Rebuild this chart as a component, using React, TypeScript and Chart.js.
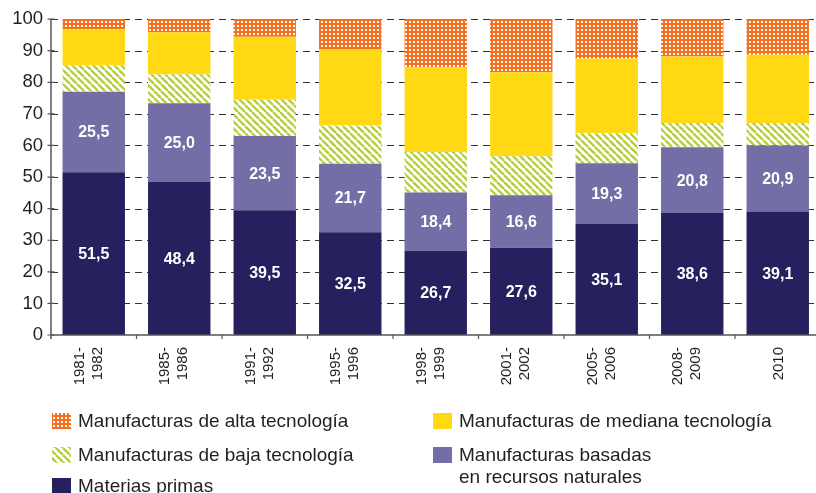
import React, { useEffect, useRef } from "react";
import { Chart, registerables } from "chart.js";

Chart.register(...registerables);

const periodLines: string[][] = [
  ["1981-", "1982"],
  ["1985-", "1986"],
  ["1991-", "1992"],
  ["1995-", "1996"],
  ["1998-", "1999"],
  ["2001-", "2002"],
  ["2005-", "2006"],
  ["2008-", "2009"],
  ["2010"],
];
const categories = periodLines.map((l) => l.join(""));

const materiasPrimas = [51.5, 48.4, 39.5, 32.5, 26.7, 27.6, 35.1, 38.6, 39.1];
const recursosNaturales = [25.5, 25.0, 23.5, 21.7, 18.4, 16.6, 19.3, 20.8, 20.9];
const bajaTecnologia = [8.3, 9.1, 11.5, 12.1, 12.8, 12.4, 9.5, 7.7, 7.1];
const medianaTecnologia = [11.4, 13.3, 19.9, 24.2, 26.9, 26.6, 23.6, 21.1, 21.6];
const altaTecnologia = [3.3, 4.2, 5.6, 9.5, 15.2, 16.8, 12.5, 11.8, 11.3];

const yTicks = [0, 10, 20, 30, 40, 50, 60, 70, 80, 90, 100];

const legendAlta = ["Manufacturas de alta tecnología"];
const legendMediana = ["Manufacturas de mediana tecnología"];
const legendBaja = ["Manufacturas de baja tecnología"];
const legendRecursos = ["Manufacturas basadas", "en recursos naturales"];
const legendMaterias = ["Materias primas"];

const FONT = "'Liberation Sans', Arial, sans-serif";
const ORANGE = "#F37021";
const YELLOW = "#FFDA14";
const GREEN = "#B7CE3A";
const PURPLE = "#736FA6";
const NAVY = "#26205F";

function makeDotPattern(): CanvasPattern | string {
  const c = document.createElement("canvas");
  c.width = 4;
  c.height = 4;
  const g = c.getContext("2d");
  if (!g) return ORANGE;
  g.fillStyle = ORANGE;
  g.fillRect(0, 0, 4, 4);
  g.fillStyle = "rgba(255,255,255,0.95)";
  g.fillRect(1, 1, 2, 2);
  const p = g.createPattern(c, "repeat");
  return p || ORANGE;
}

function makeStripePattern(): CanvasPattern | string {
  const c = document.createElement("canvas");
  c.width = 7;
  c.height = 7;
  const g = c.getContext("2d");
  if (!g) return GREEN;
  g.fillStyle = "#ffffff";
  g.fillRect(0, 0, 7, 7);
  g.strokeStyle = GREEN;
  g.lineWidth = 2.3;
  g.beginPath();
  for (const k of [-7, 0, 7]) {
    g.moveTo(k, 0);
    g.lineTo(k + 7, 7);
  }
  g.stroke();
  const p = g.createPattern(c, "repeat");
  return p || GREEN;
}

export default function App() {
  const ref = useRef<HTMLCanvasElement | null>(null);

  useEffect(() => {
    const canvas = ref.current;
    if (!canvas) return;
    const dots = makeDotPattern();
    const stripes = makeStripePattern();

    const decor = {
      id: "decor",
      beforeDatasetsDraw(chart: any) {
        const { ctx, chartArea, scales } = chart;
        const y = scales.y;
        ctx.save();
        ctx.strokeStyle = "#333";
        ctx.lineWidth = 1;
        ctx.setLineDash([7, 5]);
        for (const v of yTicks) {
          if (v === 0) continue;
          const py = Math.round(y.getPixelForValue(v)) + 0.5;
          ctx.beginPath();
          ctx.moveTo(chartArea.left, py);
          ctx.lineTo(chartArea.right, py);
          ctx.stroke();
        }
        ctx.restore();
      },
      afterDatasetsDraw(chart: any) {
        const { ctx, chartArea, scales } = chart;
        const y = scales.y;
        const x = scales.x;
        const left = chartArea.left;
        const y0 = y.getPixelForValue(0);
        const y100 = y.getPixelForValue(100);
        ctx.save();
        // axes
        ctx.strokeStyle = "#555";
        ctx.lineWidth = 1.5;
        ctx.beginPath();
        ctx.moveTo(left, y100);
        ctx.lineTo(left, y0 + 4);
        ctx.moveTo(left, y0);
        ctx.lineTo(chartArea.right, y0);
        ctx.stroke();
        ctx.lineWidth = 1.2;
        ctx.beginPath();
        for (const v of yTicks) {
          const py = y.getPixelForValue(v);
          ctx.moveTo(left - 3.5, py);
          ctx.lineTo(left + 3.5, py);
        }
        const n = categories.length;
        const w = (chartArea.right - left) / n;
        for (let i = 1; i <= n; i++) {
          const px = left + i * w;
          ctx.moveTo(px, y0);
          ctx.lineTo(px, y0 + 4);
        }
        ctx.stroke();

        // value labels
        ctx.fillStyle = "#ffffff";
        ctx.font = `bold 16px ${FONT}`;
        ctx.textAlign = "center";
        ctx.textBaseline = "middle";
        [0, 1].forEach((di) => {
          const meta = chart.getDatasetMeta(di);
          const values = chart.data.datasets[di].data as number[];
          meta.data.forEach((el: any, i: number) => {
            const cy = (el.y + el.base) / 2;
            ctx.fillText(values[i].toFixed(1).replace(".", ","), el.x, cy + 1);
          });
        });

        // x labels
        ctx.fillStyle = "#231F20";
        ctx.font = `15px ${FONT}`;
        ctx.textAlign = "right";
        ctx.textBaseline = "middle";
        periodLines.forEach((lines, i) => {
          const cx = x.getPixelForValue(i);
          const lh = 18;
          const start = lines.length === 1 ? cx + 1 : cx - 14;
          lines.forEach((t, k) => {
            ctx.save();
            ctx.translate(start + k * lh, y0 + 12);
            ctx.rotate(-Math.PI / 2);
            ctx.fillText(t, 0, 0);
            ctx.restore();
          });
        });

        // legend
        const items: { fill: any; lines: string[]; sx: number; sy: number }[] = [
          { fill: dots, lines: legendAlta, sx: 52, sy: 413 },
          { fill: YELLOW, lines: legendMediana, sx: 433, sy: 413 },
          { fill: stripes, lines: legendBaja, sx: 52, sy: 447 },
          { fill: PURPLE, lines: legendRecursos, sx: 433, sy: 447 },
          { fill: NAVY, lines: legendMaterias, sx: 52, sy: 478 },
        ];
        ctx.font = `19px ${FONT}`;
        ctx.textAlign = "left";
        ctx.textBaseline = "middle";
        for (const it of items) {
          ctx.fillStyle = it.fill;
          ctx.fillRect(it.sx, it.sy, 19, 16);
          ctx.fillStyle = "#231F20";
          it.lines.forEach((t, k) => {
            ctx.fillText(t, it.sx + 26, it.sy + 9 + k * 22);
          });
        }
        ctx.restore();
      },
    };

    const chart = new Chart(canvas, {
      type: "bar",
      data: {
        labels: categories,
        datasets: [
          { label: legendMaterias[0], data: materiasPrimas, backgroundColor: NAVY },
          { label: legendRecursos.join(" "), data: recursosNaturales, backgroundColor: PURPLE },
          { label: legendBaja[0], data: bajaTecnologia, backgroundColor: stripes as any },
          { label: legendMediana[0], data: medianaTecnologia, backgroundColor: YELLOW },
          { label: legendAlta[0], data: altaTecnologia, backgroundColor: dots as any },
        ],
      },
      options: {
        responsive: false,
        animation: false,
        devicePixelRatio: 1,
        layout: { padding: { left: 0, right: 9.5, top: 17, bottom: 158 } },
        datasets: {
          bar: { barPercentage: 0.73, categoryPercentage: 1, borderWidth: 0 },
        },
        plugins: {
          legend: { display: false },
          tooltip: { enabled: false },
        },
        scales: {
          x: {
            stacked: true,
            display: false,
            offset: true,
          },
          y: {
            stacked: true,
            min: 0,
            max: 100,
            grid: { display: false, drawTicks: false },
            border: { display: false },
            afterFit(scale: any) {
              scale.width = 51;
            },
            ticks: {
              stepSize: 10,
              padding: 8,
              color: "#231F20",
              font: { family: FONT, size: 18.5 },
            },
          },
        },
      },
      plugins: [decor],
    });
    return () => chart.destroy();
  }, []);

  return (
    <div
      style={{
        position: "fixed",
        left: 0,
        top: 0,
        width: 816,
        height: 493,
        overflow: "hidden",
        background: "#fff",
      }}
    >
      <canvas ref={ref} width={830} height={493} style={{ display: "block" }} />
    </div>
  );
}
